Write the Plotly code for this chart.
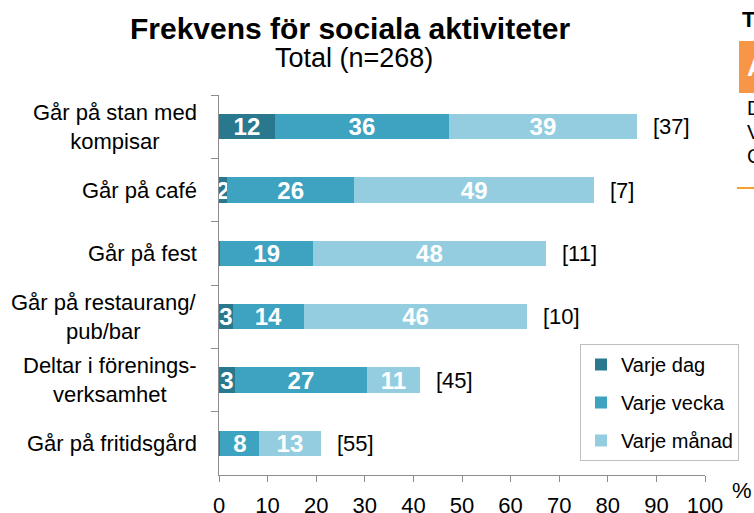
import plotly.graph_objects as go

categories = ["Går på stan med<br>kompisar", "Går på café", "Går på fest",
              "Går på restaurang/<br>pub/bar", "Deltar i förenings-<br>verksamhet",
              "Går på fritidsgård"]
varje_dag = [11.5, 1.7, 0.3, 2.8, 3.3, 0.3]
varje_vecka = [35.8, 26.1, 19.0, 14.7, 27.1, 8.0]
varje_manad = [38.7, 49.4, 48.0, 45.9, 11.0, 12.6]
dag_labels = ["12", "2", "", "3", "3", ""]
vecka_labels = ["36", "26", "19", "14", "27", "8"]
manad_labels = ["39", "49", "48", "46", "11", "13"]
ej_svar = [37, 7, 11, 10, 45, 55]
x_ticks = [0, 10, 20, 30, 40, 50, 60, 70, 80, 90, 100]

FONT = "Liberation Sans, Arial, sans-serif"
colors = ["#2A788D", "#3DA3C1", "#93CDDF"]

# plot area in page pixels: x 219..705, y 95..475
PX0, PX1, PY0, PY1 = 219, 705, 95, 475
PW, PH = PX1 - PX0, PY1 - PY0


def px(x):
    return (x - PX0) / PW


def py(y):
    return (PY1 - y) / PH


fig = go.Figure()
for name, vals, labels, col in [("Varje dag", varje_dag, dag_labels, colors[0]),
                                ("Varje vecka", varje_vecka, vecka_labels, colors[1]),
                                ("Varje månad", varje_manad, manad_labels, colors[2])]:
    fig.add_trace(go.Bar(
        y=categories, x=vals, name=name, orientation="h",
        marker=dict(color=col, line=dict(width=0)),
        text=labels, textposition="inside", insidetextanchor="middle",
        constraintext="none", textangle=0, cliponaxis=False,
        textfont=dict(family=FONT, size=24, color="white", weight="bold"),
        legendgroup=name, hoverinfo="skip",
    ))

annotations = []
for cat in categories:
    annotations.append(dict(x=0, xref="paper", y=cat, yref="y", text=cat,
                            xanchor="right", yanchor="middle", align="center",
                            xshift=-20, showarrow=False,
                            font=dict(family=FONT, size=22, color="#000000")))
for cat, d, v, m, e in zip(categories, varje_dag, varje_vecka, varje_manad, ej_svar):
    annotations.append(dict(x=d + v + m, xref="x", y=cat, yref="y", text=f"[{e}]",
                            xanchor="left", yanchor="middle", xshift=14, showarrow=False,
                            font=dict(family=FONT, size=22, color="#000000")))

annotations += [
    dict(x=px(350), xref="paper", y=py(28), yref="paper",
         text="<b>Frekvens för sociala aktiviteter</b>", showarrow=False,
         xanchor="center", yanchor="middle", font=dict(family=FONT, size=30, color="#000")),
    dict(x=px(354), xref="paper", y=py(58), yref="paper",
         text="Total (n=268)", showarrow=False,
         xanchor="center", yanchor="middle", font=dict(family=FONT, size=27, color="#000")),
    dict(x=px(742), xref="paper", y=py(490), yref="paper",
         text="%", showarrow=False, xanchor="center", yanchor="middle",
         font=dict(family=FONT, size=22, color="#000")),
    # fragments of the neighbouring panel at the right edge
    dict(x=px(740), xref="paper", y=py(19), yref="paper",
         text="<b>T</b>", showarrow=False, xanchor="left", yanchor="middle",
         font=dict(family=FONT, size=22, color="#000")),
    dict(x=px(745), xref="paper", y=py(67), yref="paper",
         text="<b>A</b>", showarrow=False, xanchor="left", yanchor="middle",
         font=dict(family=FONT, size=26, color="#fff")),
    dict(x=px(745), xref="paper", y=py(108), yref="paper",
         text="D", showarrow=False, xanchor="left", yanchor="middle",
         font=dict(family=FONT, size=20, color="#000")),
    dict(x=px(745), xref="paper", y=py(132), yref="paper",
         text="V", showarrow=False, xanchor="left", yanchor="middle",
         font=dict(family=FONT, size=20, color="#000")),
    dict(x=px(745), xref="paper", y=py(156), yref="paper",
         text="C", showarrow=False, xanchor="left", yanchor="middle",
         font=dict(family=FONT, size=20, color="#000")),
]

shapes = [
    dict(type="rect", xref="paper", yref="paper",
         x0=px(739), x1=px(760), y0=py(93), y1=py(41),
         fillcolor="#F79646", line=dict(width=0), layer="below"),
    dict(type="line", xref="paper", yref="paper",
         x0=px(737), x1=px(760), y0=py(188), y1=py(188),
         line=dict(color="#F7A030", width=2)),
]

fig.update_layout(
    width=754, height=513,
    margin=dict(l=PX0, r=754 - PX1, t=PY0, b=513 - PY1, pad=0, autoexpand=False),
    paper_bgcolor="white", plot_bgcolor="white",
    barmode="stack", bargap=0.605,
    font=dict(family=FONT, size=22, color="#000"),
    showlegend=True,
    legend=dict(x=px(580), y=py(344), xanchor="left", yanchor="top",
                bordercolor="#BFBFBF", borderwidth=1, bgcolor="white",
                traceorder="grouped", tracegroupgap=9,
                font=dict(family=FONT, size=20, color="#000"),
                itemclick=False, itemdoubleclick=False),
    annotations=annotations,
    shapes=shapes,
    xaxis=dict(range=[0, 100], tickvals=x_ticks, ticktext=[str(t) for t in x_ticks],
               showgrid=False, zeroline=False, showline=True, linecolor="#8C8C8C",
               linewidth=1, ticks="outside", ticklen=6, tickcolor="#8C8C8C",
               tickfont=dict(family=FONT, size=22, color="#000"), ticklabelstandoff=5,
               automargin=False, fixedrange=True),
    yaxis=dict(categoryorder="array", categoryarray=categories, autorange="reversed",
               showticklabels=False, showgrid=False, zeroline=False, showline=True,
               linecolor="#8C8C8C", linewidth=1, ticks="outside", ticklen=7,
               tickcolor="#8C8C8C", tickson="boundaries", automargin=False,
               fixedrange=True),
)

fig.write_html(
    "out.html",
    config={"displayModeBar": False, "staticPlot": True},
    post_script="document.body.style.margin='0';document.body.style.overflow='hidden';",
)
